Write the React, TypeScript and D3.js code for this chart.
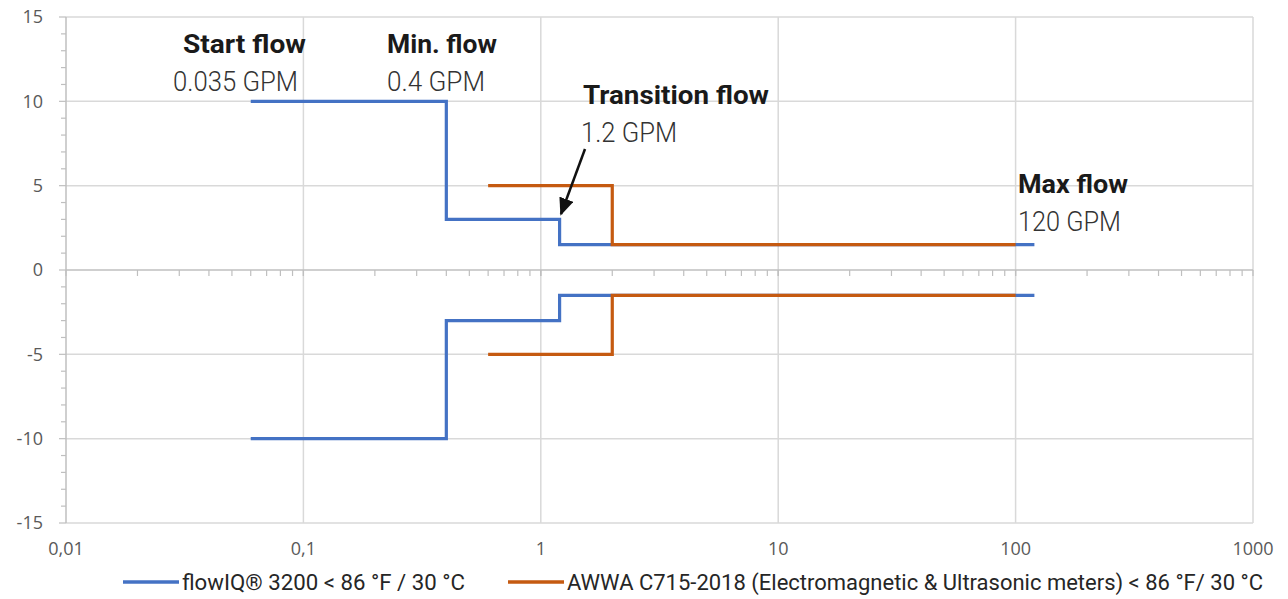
import React, { useEffect, useRef } from "react";
import * as d3 from "d3";

// step series: breakpoints on x (GPM) and level between them (error %)
const flowIqX = [0.06, 0.4, 1.2, 120];
const flowIqY = [10, 3, 1.5];
const awwaX = [0.6, 2, 100];
const awwaY = [5, 1.5];

const xTicks = [0.01, 0.1, 1, 10, 100, 1000];
const xTickLabels = ["0,01", "0,1", "1", "10", "100", "1000"];
const yTicks = [15, 10, 5, 0, -5, -10, -15];

const legendLabels = [
  "flowIQ® 3200 < 86 °F / 30 °C",
  "AWWA C715-2018 (Electromagnetic & Ultrasonic meters) < 86 °F/ 30 °C",
];

const annotations = [
  { title: "Start flow", value: "0.035 GPM", tx: 183, tw: 123, vx: 173, vw: 125, ty: 53, vy: 91 },
  { title: "Min. flow", value: "0.4 GPM", tx: 387, tw: 110, vx: 387, vw: 98, ty: 53, vy: 91 },
  { title: "Transition flow", value: "1.2 GPM", tx: 583, tw: 186, vx: 581, vw: 96, ty: 104, vy: 142 },
  { title: "Max flow", value: "120 GPM", tx: 1018, tw: 110, vx: 1018, vw: 103, ty: 193, vy: 231 },
];

const BLUE = "#4472c4";
const ORANGE = "#c55a11";

function stepPoints(xs: number[], ys: number[], sign: number) {
  const pts: [number, number][] = [];
  ys.forEach((y, i) => {
    pts.push([xs[i], sign * y]);
  });
  pts.push([xs[xs.length - 1], sign * ys[ys.length - 1]]);
  return pts;
}

export default function App() {
  const ref = useRef<SVGSVGElement>(null);

  useEffect(() => {
    const svg = d3.select(ref.current);
    svg.selectAll("*").remove();

    const margin = { top: 17, right: 35, bottom: 76, left: 66 };
    const W = 1288,
      H = 599;
    const width = W - margin.left - margin.right;
    const height = H - margin.top - margin.bottom;

    const x = d3.scaleLog().domain([0.01, 1000]).range([0, width]);
    const y = d3.scaleLinear().domain([-15, 15]).range([height, 0]);

    const g = svg
      .append("g")
      .attr("transform", "translate(" + margin.left + "," + margin.top + ")");

    // grid
    g.selectAll(".hgrid")
      .data(yTicks.filter((d) => d !== 0 && d !== -15))
      .enter()
      .append("line")
      .attr("x1", 0)
      .attr("x2", width)
      .attr("y1", (d) => y(d))
      .attr("y2", (d) => y(d))
      .attr("stroke", "#d9d9d9")
      .attr("stroke-width", 1.5);

    g.selectAll(".vgrid")
      .data(xTicks.slice(1))
      .enter()
      .append("line")
      .attr("x1", (d) => x(d))
      .attr("x2", (d) => x(d))
      .attr("y1", 0)
      .attr("y2", height)
      .attr("stroke", "#d9d9d9")
      .attr("stroke-width", 1.5);

    // bottom border line
    g.append("line")
      .attr("x1", 0)
      .attr("x2", width)
      .attr("y1", height)
      .attr("y2", height)
      .attr("stroke", "#d9d9d9")
      .attr("stroke-width", 1.5);

    // y axis with minor ticks every 1
    const yAxis = g.append("g");
    yAxis
      .append("line")
      .attr("x1", 0)
      .attr("x2", 0)
      .attr("y1", 0)
      .attr("y2", height)
      .attr("stroke", "#bfbfbf")
      .attr("stroke-width", 1.5);
    yAxis
      .selectAll(".minor")
      .data(d3.range(-15, 16))
      .enter()
      .append("line")
      .attr("x1", (d) => (d % 5 === 0 ? -7 : -5))
      .attr("x2", 0)
      .attr("y1", (d) => y(d))
      .attr("y2", (d) => y(d))
      .attr("stroke", "#bfbfbf")
      .attr("stroke-width", 1.2);
    yAxis
      .selectAll(".lbl")
      .data(yTicks)
      .enter()
      .append("text")
      .attr("x", -23)
      .attr("y", (d) => y(d))
      .attr("dy", "0.35em")
      .attr("text-anchor", "end")
      .attr("font-family", "Open Sans, sans-serif")
      .attr("font-size", 18)
      .attr("fill", "#595959")
      .text((d) => d);

    // x axis on the zero line
    const xAxis = g.append("g").attr("transform", "translate(0," + y(0) + ")");
    xAxis
      .append("line")
      .attr("x1", 0)
      .attr("x2", width)
      .attr("stroke", "#bfbfbf")
      .attr("stroke-width", 1.5);
    const minorX: number[] = [];
    [0.01, 0.1, 1, 10, 100].forEach((dec) => {
      for (let k = 1; k <= 10; k++) minorX.push(dec * k);
    });
    xAxis
      .selectAll(".xt")
      .data(minorX)
      .enter()
      .append("line")
      .attr("x1", (d) => x(d))
      .attr("x2", (d) => x(d))
      .attr("y1", 0)
      .attr("y2", 6)
      .attr("stroke", "#bfbfbf")
      .attr("stroke-width", 1.2);

    g.selectAll(".xlbl")
      .data(xTicks)
      .enter()
      .append("text")
      .attr("x", (d) => x(d))
      .attr("y", height + 32)
      .attr("text-anchor", "middle")
      .attr("font-family", "Open Sans, sans-serif")
      .attr("font-size", 18)
      .attr("fill", "#595959")
      .text((d, i) => xTickLabels[i]);

    // series
    const line = d3
      .line<[number, number]>()
      .x((d) => x(d[0]))
      .y((d) => y(d[1]))
      .curve(d3.curveStepAfter);

    const series = [
      { xs: flowIqX, ys: flowIqY, color: BLUE },
      { xs: awwaX, ys: awwaY, color: ORANGE },
    ];
    // blue first so orange lies over the shared segment
    series.forEach((s) => {
      [1, -1].forEach((sign) => {
        g.append("path")
          .attr("d", line(stepPoints(s.xs, s.ys, sign)))
          .attr("fill", "none")
          .attr("stroke", s.color)
          .attr("stroke-width", 3.2);
      });
    });

    // annotations
    annotations.forEach((a) => {
      svg
        .append("text")
        .attr("x", a.tx)
        .attr("y", a.ty)
        .attr("font-family", "Roboto, sans-serif")
        .attr("font-weight", 700)
        .attr("font-size", 25)
        .attr("fill", "#1a1a1a")
        .attr("textLength", a.tw)
        .attr("lengthAdjust", "spacingAndGlyphs")
        .text(a.title);
      svg
        .append("text")
        .attr("x", a.vx)
        .attr("y", a.vy)
        .attr("font-family", "Roboto, sans-serif")
        .attr("font-weight", 300)
        .attr("font-size", 28)
        .attr("fill", "#333")
        .attr("textLength", a.vw)
        .attr("lengthAdjust", "spacingAndGlyphs")
        .text(a.value);
    });

    // arrow to transition point
    svg
      .append("defs")
      .append("marker")
      .attr("id", "arrowhead")
      .attr("viewBox", "0 0 10 10")
      .attr("refX", 9)
      .attr("refY", 5)
      .attr("markerWidth", 7)
      .attr("markerHeight", 6)
      .attr("orient", "auto")
      .attr("preserveAspectRatio", "none")
      .append("path")
      .attr("d", "M0,0 L10,5 L0,10 z")
      .attr("fill", "#111");
    svg
      .append("line")
      .attr("x1", 585)
      .attr("y1", 149)
      .attr("x2", 561)
      .attr("y2", 214)
      .attr("stroke", "#111")
      .attr("stroke-width", 2.5)
      .attr("marker-end", "url(#arrowhead)");

    // legend
    const legendX = [123, 508];
    const legendW = [283, 696];
    legendLabels.forEach((lbl, i) => {
      const color = i === 0 ? BLUE : ORANGE;
      svg
        .append("line")
        .attr("x1", legendX[i])
        .attr("x2", legendX[i] + 56)
        .attr("y1", 582)
        .attr("y2", 582)
        .attr("stroke", color)
        .attr("stroke-width", 3.5);
      svg
        .append("text")
        .attr("x", legendX[i] + 59)
        .attr("y", 590)
        .attr("font-family", "Roboto, sans-serif")
        .attr("font-size", 22)
        .attr("fill", "#262626")
        .attr("textLength", legendW[i])
        .attr("lengthAdjust", "spacingAndGlyphs")
        .text(lbl);
    });
  }, []);

  return (
    <svg
      ref={ref}
      width={1288}
      height={599}
      style={{ position: "absolute", left: 0, top: 0, background: "#fff" }}
    />
  );
}
